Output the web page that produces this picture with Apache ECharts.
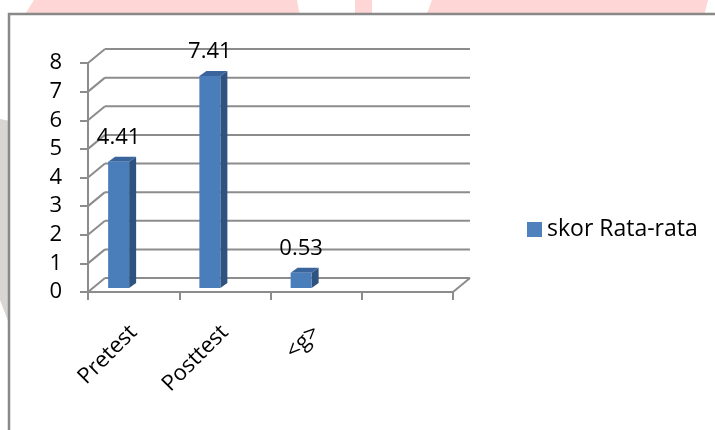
<!DOCTYPE html>
<html>
<head>
<meta charset="utf-8">
<script src="https://cdn.jsdelivr.net/npm/echarts@6/dist/echarts.min.js"></script>
<style>html,body{margin:0;padding:0;background:#fff}#c{width:715px;height:430px}</style>
</head>
<body>
<div id="c"></div>
<script>
const categories = ['Pretest', 'Posttest', '<g>', ''];
const seriesName = 'skor Rata-rata';
const values = [4.41, 7.41, 0.53];
const yTicks = [0, 1, 2, 3, 4, 5, 6, 7, 8];

const FONT = 'Open Sans';
const GRID = '#8c8c8c';
const DX = 17, DY = -14; // depth offset of the back wall

const chart = echarts.init(document.getElementById('c'), null, {renderer: 'canvas'});

const option = {
  backgroundColor: '#ffffff',
  animation: false,
  textStyle: {fontFamily: FONT},
  graphic: [
    {type: 'polygon', z: -5, shape: {points: [[34, 0], [24, 16], [300, 16], [297, 0]]}, style: {fill: '#ffd6d6'}},
    {type: 'rect', z: -5, shape: {x: 355, y: 0, width: 17, height: 16}, style: {fill: '#ffd6d6'}},
    {type: 'polygon', z: -5, shape: {points: [[432, 0], [426, 16], [704, 16], [708, 0]]}, style: {fill: '#ffd6d6'}},
    {type: 'polygon', z: -5, shape: {points: [[0, 119], [10, 121], [10, 326], [0, 300]]}, style: {fill: '#d8d5d2'}},
    {type: 'rect', z: -4, shape: {x: 9, y: 14, width: 730, height: 440}, style: {fill: '#ffffff', stroke: '#898989', lineWidth: 2.5}}
  ],
  legend: {
    left: 527, top: 218, padding: 0,
    icon: 'rect', itemWidth: 15, itemHeight: 15, itemGap: 10,
    textStyle: {fontSize: 23, color: '#000', fontFamily: FONT},
    data: [seriesName]
  },
  grid: {left: 88, top: 63, width: 365, height: 229},
  xAxis: {
    type: 'category', data: categories, boundaryGap: true,
    axisLine: {lineStyle: {color: GRID, width: 2}},
    axisTick: {show: true, length: 8, lineStyle: {color: GRID, width: 2}},
    axisLabel: {rotate: 45, fontSize: 22, color: '#000', margin: 37, fontFamily: FONT, interval: 0},
    splitLine: {show: false}
  },
  yAxis: {
    type: 'value', min: 0, max: 8, interval: 1,
    axisLine: {show: true, lineStyle: {color: GRID, width: 2}},
    axisTick: {show: true, length: 8, lineStyle: {color: GRID, width: 2}},
    axisLabel: {fontSize: 22, color: '#000', margin: 26, fontFamily: FONT},
    splitLine: {show: false}
  },
  series: [
    {
      type: 'custom', name: 'walls', silent: true, z: 1,
      data: yTicks.map(v => [0, v]),
      renderItem: function (params, api) {
        const band = api.size([1, 0])[0];
        const p = api.coord([0, api.value(1)]);
        const xL = p[0] - band / 2;
        const xR = xL + band * categories.length;
        const y = p[1];
        const ls = {stroke: GRID, lineWidth: 2};
        const children = [
          {type: 'line', shape: {x1: xL, y1: y, x2: xL + DX, y2: y + DY}, style: ls},
          {type: 'line', shape: {x1: xL + DX, y1: y + DY, x2: xR + DX, y2: y + DY}, style: ls}
        ];
        if (api.value(1) === 0) {
          children.push({type: 'line', shape: {x1: xR, y1: y, x2: xR + DX, y2: y + DY}, style: ls});
        }
        return {type: 'group', children: children};
      }
    },
    {
      type: 'custom', name: seriesName, z: 3,
      itemStyle: {color: '#4f81bd'},
      data: values.map((v, i) => [i, v]),
      renderItem: function (params, api) {
        const base = api.coord([api.value(0), 0]);
        const top = api.coord([api.value(0), api.value(1)]);
        const w = 21, d = 7, h = 5, lift = 4;
        const xl = base[0] - 15 - w / 2;
        const xr = xl + w;
        const yb = base[1] - lift;
        const yt = top[1] - lift;
        return {
          type: 'group',
          children: [
            {type: 'polygon', shape: {points: [[xr, yt], [xr + d, yt - h], [xr + d, yb - h], [xr, yb]]}, style: {fill: '#2f5380'}},
            {type: 'polygon', shape: {points: [[xl, yt], [xl + d, yt - h], [xr + d, yt - h], [xr, yt]]}, style: {fill: '#3a659c'}},
            {type: 'rect', shape: {x: xl, y: yt, width: w, height: yb - yt}, style: {fill: '#4a7ebb'}},
            {type: 'text', style: {text: String(api.value(1).toFixed(2)), x: xl + w / 2, y: yt - 24, align: 'center', verticalAlign: 'middle', fontSize: 22, fontFamily: FONT, fill: '#000'}}
          ]
        };
      }
    }
  ]
};
chart.setOption(option);
</script>
</body>
</html>
